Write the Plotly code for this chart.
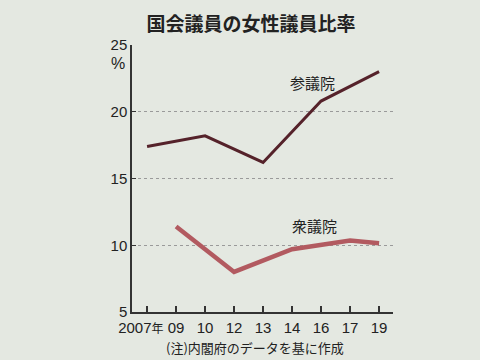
import plotly.graph_objects as go

years = ["2007年", "09", "10", "12", "13", "14", "16", "17", "19"]
upper_house = [17.4, None, 18.2, None, 16.2, None, 20.8, None, 23.0]   # 参議院
lower_house = [None, 11.4, None, 8.0, None, 9.7, None, 10.35, 10.15]   # 衆議院
y_ticks = [5, 10, 15, 20, 25]

FONT = "Liberation Sans, Noto Sans CJK JP, sans-serif"
JP = "Noto Sans CJK JP, sans-serif"
BG = "#e4e8e1"

L, R, T, B = 132, 87, 45, 48
PW, PH = 480 - L - R, 360 - T - B

fig = go.Figure()
fig.add_trace(go.Scatter(x=years, y=upper_house, mode="lines", connectgaps=True,
                         line=dict(color="#55222a", width=3), hoverinfo="skip", name="参議院"))
fig.add_trace(go.Scatter(x=years, y=lower_house, mode="lines", connectgaps=True,
                         line=dict(color="#b25a60", width=4.5), hoverinfo="skip", name="衆議院"))

# first label sits a little left of its tick, as in the print
tick_text = [y.replace("年", "<span style='font-size:12px'>年</span>\u00a0\u00a0\u00a0") for y in years]

fig.update_layout(
    width=480, height=360,
    margin=dict(l=L, r=R, t=T, b=B),
    paper_bgcolor=BG, plot_bgcolor=BG,
    showlegend=False,
    font=dict(family=FONT, size=16, color="#222"),
    title=dict(text="<b>国会議員の女性議員比率</b>", x=251/480, xanchor="center",
               y=1-24/360, yanchor="middle", font=dict(family=JP, size=19, color="#222")),
)
fig.update_xaxes(type="category", range=[-0.52, 8.48], showline=True, linecolor="#333", linewidth=1.5,
                 tickvals=years, ticktext=tick_text,
                 ticks="inside", ticklen=6, tickcolor="#333", tickwidth=1.5, tickangle=0,
                 automargin=False, ticklabelstandoff=1,
                 showgrid=False, zeroline=False, tickfont=dict(family=FONT, size=15, color="#222"))
fig.update_yaxes(range=[5, 25], tickvals=y_ticks, showline=True, linecolor="#333", linewidth=1.5,
                 ticks="inside", ticklen=4, tickcolor="#333", automargin=False,
                 showgrid=True, gridcolor="#9a9a9a", gridwidth=1, griddash="3px,3px",
                 zeroline=False, tickfont=dict(family=FONT, size=15, color="#222"))


def px_to_plot(px, py):
    return (px - L) / PW, 1 - (py - T) / PH


for text, px, py, fam, size in [
    ("%", 118, 64, FONT, 16),
    ("参議院", 312, 82, JP, 15),
    ("衆議院", 314, 225, JP, 15),
    ("(注)内閣府のデータを基に作成", 255, 347, JP, 13),
]:
    ax, ay = px_to_plot(px, py)
    fig.add_annotation(x=ax, y=ay, xref="paper", yref="paper", text=text, showarrow=False,
                       xanchor="center", yanchor="middle",
                       font=dict(family=fam, size=size, color="#222"))

fig.write_html("out.html")
